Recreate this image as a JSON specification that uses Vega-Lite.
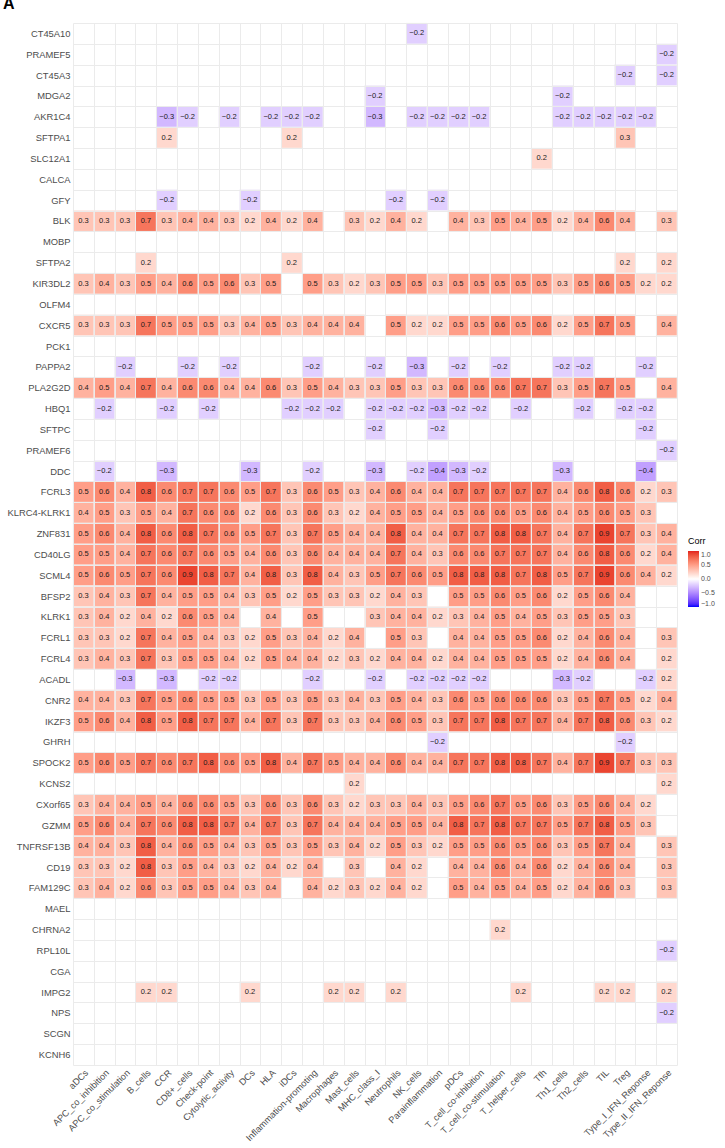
{
"$schema": "https://vega.github.io/schema/vega-lite/v6.json",
"autosize": {"type": "none"},
"padding": {"left": 73, "top": 23, "right": 48, "bottom": 83},
"width": 604,
"height": 1042,
"background": "white",
"title": {"text": "A", "anchor": "start", "frame": "group", "dx": -70, "fontSize": 16, "fontWeight": "bold", "font": "Liberation Sans", "offset": 6, "color": "black"},
"config": {"view": {"stroke": null}, "font": "Liberation Sans"},
"data": {"values": [
{"g":"CT45A10","c":"NK_cells","v":-0.2},
{"g":"PRAMEF5","c":"Type_II_IFN_Reponse","v":-0.2},
{"g":"CT45A3","c":"Treg","v":-0.2},
{"g":"CT45A3","c":"Type_II_IFN_Reponse","v":-0.2},
{"g":"MDGA2","c":"MHC_class_I","v":-0.2},
{"g":"MDGA2","c":"Th1_cells","v":-0.2},
{"g":"AKR1C4","c":"CCR","v":-0.3},
{"g":"AKR1C4","c":"CD8+_cells","v":-0.2},
{"g":"AKR1C4","c":"Cytolytic_activity","v":-0.2},
{"g":"AKR1C4","c":"HLA","v":-0.2},
{"g":"AKR1C4","c":"iDCs","v":-0.2},
{"g":"AKR1C4","c":"Inflammation-promoting","v":-0.2},
{"g":"AKR1C4","c":"MHC_class_I","v":-0.3},
{"g":"AKR1C4","c":"NK_cells","v":-0.2},
{"g":"AKR1C4","c":"Parainflammation","v":-0.2},
{"g":"AKR1C4","c":"pDCs","v":-0.2},
{"g":"AKR1C4","c":"T_cell_co-inhibition","v":-0.2},
{"g":"AKR1C4","c":"Th1_cells","v":-0.2},
{"g":"AKR1C4","c":"Th2_cells","v":-0.2},
{"g":"AKR1C4","c":"TIL","v":-0.2},
{"g":"AKR1C4","c":"Treg","v":-0.2},
{"g":"AKR1C4","c":"Type_I_IFN_Reponse","v":-0.2},
{"g":"SFTPA1","c":"CCR","v":0.2},
{"g":"SFTPA1","c":"iDCs","v":0.2},
{"g":"SFTPA1","c":"Treg","v":0.3},
{"g":"SLC12A1","c":"Tfh","v":0.2},
{"g":"GFY","c":"CCR","v":-0.2},
{"g":"GFY","c":"DCs","v":-0.2},
{"g":"GFY","c":"Neutrophils","v":-0.2},
{"g":"GFY","c":"Parainflammation","v":-0.2},
{"g":"BLK","c":"aDCs","v":0.3},
{"g":"BLK","c":"APC_co_inhibition","v":0.3},
{"g":"BLK","c":"APC_co_stimulation","v":0.3},
{"g":"BLK","c":"B_cells","v":0.7},
{"g":"BLK","c":"CCR","v":0.3},
{"g":"BLK","c":"CD8+_cells","v":0.4},
{"g":"BLK","c":"Check-point","v":0.4},
{"g":"BLK","c":"Cytolytic_activity","v":0.3},
{"g":"BLK","c":"DCs","v":0.2},
{"g":"BLK","c":"HLA","v":0.4},
{"g":"BLK","c":"iDCs","v":0.2},
{"g":"BLK","c":"Inflammation-promoting","v":0.4},
{"g":"BLK","c":"Mast_cells","v":0.3},
{"g":"BLK","c":"MHC_class_I","v":0.2},
{"g":"BLK","c":"Neutrophils","v":0.4},
{"g":"BLK","c":"NK_cells","v":0.2},
{"g":"BLK","c":"pDCs","v":0.4},
{"g":"BLK","c":"T_cell_co-inhibition","v":0.3},
{"g":"BLK","c":"T_cell_co-stimulation","v":0.5},
{"g":"BLK","c":"T_helper_cells","v":0.4},
{"g":"BLK","c":"Tfh","v":0.5},
{"g":"BLK","c":"Th1_cells","v":0.2},
{"g":"BLK","c":"Th2_cells","v":0.4},
{"g":"BLK","c":"TIL","v":0.6},
{"g":"BLK","c":"Treg","v":0.4},
{"g":"BLK","c":"Type_II_IFN_Reponse","v":0.3},
{"g":"SFTPA2","c":"B_cells","v":0.2},
{"g":"SFTPA2","c":"iDCs","v":0.2},
{"g":"SFTPA2","c":"Treg","v":0.2},
{"g":"SFTPA2","c":"Type_II_IFN_Reponse","v":0.2},
{"g":"KIR3DL2","c":"aDCs","v":0.3},
{"g":"KIR3DL2","c":"APC_co_inhibition","v":0.4},
{"g":"KIR3DL2","c":"APC_co_stimulation","v":0.3},
{"g":"KIR3DL2","c":"B_cells","v":0.5},
{"g":"KIR3DL2","c":"CCR","v":0.4},
{"g":"KIR3DL2","c":"CD8+_cells","v":0.6},
{"g":"KIR3DL2","c":"Check-point","v":0.5},
{"g":"KIR3DL2","c":"Cytolytic_activity","v":0.6},
{"g":"KIR3DL2","c":"DCs","v":0.3},
{"g":"KIR3DL2","c":"HLA","v":0.5},
{"g":"KIR3DL2","c":"Inflammation-promoting","v":0.5},
{"g":"KIR3DL2","c":"Macrophages","v":0.3},
{"g":"KIR3DL2","c":"Mast_cells","v":0.2},
{"g":"KIR3DL2","c":"MHC_class_I","v":0.3},
{"g":"KIR3DL2","c":"Neutrophils","v":0.5},
{"g":"KIR3DL2","c":"NK_cells","v":0.5},
{"g":"KIR3DL2","c":"Parainflammation","v":0.3},
{"g":"KIR3DL2","c":"pDCs","v":0.5},
{"g":"KIR3DL2","c":"T_cell_co-inhibition","v":0.5},
{"g":"KIR3DL2","c":"T_cell_co-stimulation","v":0.5},
{"g":"KIR3DL2","c":"T_helper_cells","v":0.5},
{"g":"KIR3DL2","c":"Tfh","v":0.5},
{"g":"KIR3DL2","c":"Th1_cells","v":0.3},
{"g":"KIR3DL2","c":"Th2_cells","v":0.5},
{"g":"KIR3DL2","c":"TIL","v":0.6},
{"g":"KIR3DL2","c":"Treg","v":0.5},
{"g":"KIR3DL2","c":"Type_I_IFN_Reponse","v":0.2},
{"g":"KIR3DL2","c":"Type_II_IFN_Reponse","v":0.2},
{"g":"CXCR5","c":"aDCs","v":0.3},
{"g":"CXCR5","c":"APC_co_inhibition","v":0.3},
{"g":"CXCR5","c":"APC_co_stimulation","v":0.3},
{"g":"CXCR5","c":"B_cells","v":0.7},
{"g":"CXCR5","c":"CCR","v":0.5},
{"g":"CXCR5","c":"CD8+_cells","v":0.5},
{"g":"CXCR5","c":"Check-point","v":0.5},
{"g":"CXCR5","c":"Cytolytic_activity","v":0.3},
{"g":"CXCR5","c":"DCs","v":0.4},
{"g":"CXCR5","c":"HLA","v":0.5},
{"g":"CXCR5","c":"iDCs","v":0.3},
{"g":"CXCR5","c":"Inflammation-promoting","v":0.4},
{"g":"CXCR5","c":"Macrophages","v":0.4},
{"g":"CXCR5","c":"Mast_cells","v":0.4},
{"g":"CXCR5","c":"Neutrophils","v":0.5},
{"g":"CXCR5","c":"NK_cells","v":0.2},
{"g":"CXCR5","c":"Parainflammation","v":0.2},
{"g":"CXCR5","c":"pDCs","v":0.5},
{"g":"CXCR5","c":"T_cell_co-inhibition","v":0.5},
{"g":"CXCR5","c":"T_cell_co-stimulation","v":0.6},
{"g":"CXCR5","c":"T_helper_cells","v":0.5},
{"g":"CXCR5","c":"Tfh","v":0.6},
{"g":"CXCR5","c":"Th1_cells","v":0.2},
{"g":"CXCR5","c":"Th2_cells","v":0.5},
{"g":"CXCR5","c":"TIL","v":0.7},
{"g":"CXCR5","c":"Treg","v":0.5},
{"g":"CXCR5","c":"Type_II_IFN_Reponse","v":0.4},
{"g":"PAPPA2","c":"APC_co_stimulation","v":-0.2},
{"g":"PAPPA2","c":"CD8+_cells","v":-0.2},
{"g":"PAPPA2","c":"Cytolytic_activity","v":-0.2},
{"g":"PAPPA2","c":"Inflammation-promoting","v":-0.2},
{"g":"PAPPA2","c":"MHC_class_I","v":-0.2},
{"g":"PAPPA2","c":"NK_cells","v":-0.3},
{"g":"PAPPA2","c":"pDCs","v":-0.2},
{"g":"PAPPA2","c":"T_cell_co-stimulation","v":-0.2},
{"g":"PAPPA2","c":"Th1_cells","v":-0.2},
{"g":"PAPPA2","c":"Th2_cells","v":-0.2},
{"g":"PAPPA2","c":"Type_I_IFN_Reponse","v":-0.2},
{"g":"PLA2G2D","c":"aDCs","v":0.4},
{"g":"PLA2G2D","c":"APC_co_inhibition","v":0.5},
{"g":"PLA2G2D","c":"APC_co_stimulation","v":0.4},
{"g":"PLA2G2D","c":"B_cells","v":0.7},
{"g":"PLA2G2D","c":"CCR","v":0.4},
{"g":"PLA2G2D","c":"CD8+_cells","v":0.6},
{"g":"PLA2G2D","c":"Check-point","v":0.6},
{"g":"PLA2G2D","c":"Cytolytic_activity","v":0.4},
{"g":"PLA2G2D","c":"DCs","v":0.4},
{"g":"PLA2G2D","c":"HLA","v":0.6},
{"g":"PLA2G2D","c":"iDCs","v":0.3},
{"g":"PLA2G2D","c":"Inflammation-promoting","v":0.5},
{"g":"PLA2G2D","c":"Macrophages","v":0.4},
{"g":"PLA2G2D","c":"Mast_cells","v":0.3},
{"g":"PLA2G2D","c":"MHC_class_I","v":0.3},
{"g":"PLA2G2D","c":"Neutrophils","v":0.5},
{"g":"PLA2G2D","c":"NK_cells","v":0.3},
{"g":"PLA2G2D","c":"Parainflammation","v":0.3},
{"g":"PLA2G2D","c":"pDCs","v":0.6},
{"g":"PLA2G2D","c":"T_cell_co-inhibition","v":0.6},
{"g":"PLA2G2D","c":"T_cell_co-stimulation","v":0.6},
{"g":"PLA2G2D","c":"T_helper_cells","v":0.7},
{"g":"PLA2G2D","c":"Tfh","v":0.7},
{"g":"PLA2G2D","c":"Th1_cells","v":0.3},
{"g":"PLA2G2D","c":"Th2_cells","v":0.5},
{"g":"PLA2G2D","c":"TIL","v":0.7},
{"g":"PLA2G2D","c":"Treg","v":0.5},
{"g":"PLA2G2D","c":"Type_II_IFN_Reponse","v":0.4},
{"g":"HBQ1","c":"APC_co_inhibition","v":-0.2},
{"g":"HBQ1","c":"CCR","v":-0.2},
{"g":"HBQ1","c":"Check-point","v":-0.2},
{"g":"HBQ1","c":"iDCs","v":-0.2},
{"g":"HBQ1","c":"Inflammation-promoting","v":-0.2},
{"g":"HBQ1","c":"Macrophages","v":-0.2},
{"g":"HBQ1","c":"MHC_class_I","v":-0.2},
{"g":"HBQ1","c":"Neutrophils","v":-0.2},
{"g":"HBQ1","c":"NK_cells","v":-0.2},
{"g":"HBQ1","c":"Parainflammation","v":-0.3},
{"g":"HBQ1","c":"pDCs","v":-0.2},
{"g":"HBQ1","c":"T_cell_co-inhibition","v":-0.2},
{"g":"HBQ1","c":"T_helper_cells","v":-0.2},
{"g":"HBQ1","c":"Th2_cells","v":-0.2},
{"g":"HBQ1","c":"Treg","v":-0.2},
{"g":"HBQ1","c":"Type_I_IFN_Reponse","v":-0.2},
{"g":"SFTPC","c":"MHC_class_I","v":-0.2},
{"g":"SFTPC","c":"Parainflammation","v":-0.2},
{"g":"SFTPC","c":"Type_I_IFN_Reponse","v":-0.2},
{"g":"PRAMEF6","c":"Type_II_IFN_Reponse","v":-0.2},
{"g":"DDC","c":"APC_co_inhibition","v":-0.2},
{"g":"DDC","c":"CCR","v":-0.3},
{"g":"DDC","c":"DCs","v":-0.3},
{"g":"DDC","c":"Inflammation-promoting","v":-0.2},
{"g":"DDC","c":"MHC_class_I","v":-0.3},
{"g":"DDC","c":"NK_cells","v":-0.2},
{"g":"DDC","c":"Parainflammation","v":-0.4},
{"g":"DDC","c":"pDCs","v":-0.3},
{"g":"DDC","c":"T_cell_co-inhibition","v":-0.2},
{"g":"DDC","c":"Th1_cells","v":-0.3},
{"g":"DDC","c":"Type_I_IFN_Reponse","v":-0.4},
{"g":"FCRL3","c":"aDCs","v":0.5},
{"g":"FCRL3","c":"APC_co_inhibition","v":0.6},
{"g":"FCRL3","c":"APC_co_stimulation","v":0.4},
{"g":"FCRL3","c":"B_cells","v":0.8},
{"g":"FCRL3","c":"CCR","v":0.6},
{"g":"FCRL3","c":"CD8+_cells","v":0.7},
{"g":"FCRL3","c":"Check-point","v":0.7},
{"g":"FCRL3","c":"Cytolytic_activity","v":0.6},
{"g":"FCRL3","c":"DCs","v":0.5},
{"g":"FCRL3","c":"HLA","v":0.7},
{"g":"FCRL3","c":"iDCs","v":0.3},
{"g":"FCRL3","c":"Inflammation-promoting","v":0.6},
{"g":"FCRL3","c":"Macrophages","v":0.5},
{"g":"FCRL3","c":"Mast_cells","v":0.3},
{"g":"FCRL3","c":"MHC_class_I","v":0.4},
{"g":"FCRL3","c":"Neutrophils","v":0.6},
{"g":"FCRL3","c":"NK_cells","v":0.4},
{"g":"FCRL3","c":"Parainflammation","v":0.4},
{"g":"FCRL3","c":"pDCs","v":0.7},
{"g":"FCRL3","c":"T_cell_co-inhibition","v":0.7},
{"g":"FCRL3","c":"T_cell_co-stimulation","v":0.7},
{"g":"FCRL3","c":"T_helper_cells","v":0.7},
{"g":"FCRL3","c":"Tfh","v":0.7},
{"g":"FCRL3","c":"Th1_cells","v":0.4},
{"g":"FCRL3","c":"Th2_cells","v":0.6},
{"g":"FCRL3","c":"TIL","v":0.8},
{"g":"FCRL3","c":"Treg","v":0.6},
{"g":"FCRL3","c":"Type_I_IFN_Reponse","v":0.2},
{"g":"FCRL3","c":"Type_II_IFN_Reponse","v":0.3},
{"g":"KLRC4-KLRK1","c":"aDCs","v":0.4},
{"g":"KLRC4-KLRK1","c":"APC_co_inhibition","v":0.5},
{"g":"KLRC4-KLRK1","c":"APC_co_stimulation","v":0.3},
{"g":"KLRC4-KLRK1","c":"B_cells","v":0.5},
{"g":"KLRC4-KLRK1","c":"CCR","v":0.4},
{"g":"KLRC4-KLRK1","c":"CD8+_cells","v":0.7},
{"g":"KLRC4-KLRK1","c":"Check-point","v":0.6},
{"g":"KLRC4-KLRK1","c":"Cytolytic_activity","v":0.6},
{"g":"KLRC4-KLRK1","c":"DCs","v":0.2},
{"g":"KLRC4-KLRK1","c":"HLA","v":0.6},
{"g":"KLRC4-KLRK1","c":"iDCs","v":0.3},
{"g":"KLRC4-KLRK1","c":"Inflammation-promoting","v":0.6},
{"g":"KLRC4-KLRK1","c":"Macrophages","v":0.3},
{"g":"KLRC4-KLRK1","c":"Mast_cells","v":0.2},
{"g":"KLRC4-KLRK1","c":"MHC_class_I","v":0.4},
{"g":"KLRC4-KLRK1","c":"Neutrophils","v":0.5},
{"g":"KLRC4-KLRK1","c":"NK_cells","v":0.5},
{"g":"KLRC4-KLRK1","c":"Parainflammation","v":0.4},
{"g":"KLRC4-KLRK1","c":"pDCs","v":0.5},
{"g":"KLRC4-KLRK1","c":"T_cell_co-inhibition","v":0.6},
{"g":"KLRC4-KLRK1","c":"T_cell_co-stimulation","v":0.6},
{"g":"KLRC4-KLRK1","c":"T_helper_cells","v":0.5},
{"g":"KLRC4-KLRK1","c":"Tfh","v":0.6},
{"g":"KLRC4-KLRK1","c":"Th1_cells","v":0.4},
{"g":"KLRC4-KLRK1","c":"Th2_cells","v":0.5},
{"g":"KLRC4-KLRK1","c":"TIL","v":0.6},
{"g":"KLRC4-KLRK1","c":"Treg","v":0.5},
{"g":"KLRC4-KLRK1","c":"Type_I_IFN_Reponse","v":0.3},
{"g":"ZNF831","c":"aDCs","v":0.5},
{"g":"ZNF831","c":"APC_co_inhibition","v":0.6},
{"g":"ZNF831","c":"APC_co_stimulation","v":0.4},
{"g":"ZNF831","c":"B_cells","v":0.8},
{"g":"ZNF831","c":"CCR","v":0.6},
{"g":"ZNF831","c":"CD8+_cells","v":0.8},
{"g":"ZNF831","c":"Check-point","v":0.7},
{"g":"ZNF831","c":"Cytolytic_activity","v":0.6},
{"g":"ZNF831","c":"DCs","v":0.5},
{"g":"ZNF831","c":"HLA","v":0.7},
{"g":"ZNF831","c":"iDCs","v":0.3},
{"g":"ZNF831","c":"Inflammation-promoting","v":0.7},
{"g":"ZNF831","c":"Macrophages","v":0.5},
{"g":"ZNF831","c":"Mast_cells","v":0.4},
{"g":"ZNF831","c":"MHC_class_I","v":0.4},
{"g":"ZNF831","c":"Neutrophils","v":0.8},
{"g":"ZNF831","c":"NK_cells","v":0.4},
{"g":"ZNF831","c":"Parainflammation","v":0.4},
{"g":"ZNF831","c":"pDCs","v":0.7},
{"g":"ZNF831","c":"T_cell_co-inhibition","v":0.7},
{"g":"ZNF831","c":"T_cell_co-stimulation","v":0.8},
{"g":"ZNF831","c":"T_helper_cells","v":0.8},
{"g":"ZNF831","c":"Tfh","v":0.7},
{"g":"ZNF831","c":"Th1_cells","v":0.4},
{"g":"ZNF831","c":"Th2_cells","v":0.7},
{"g":"ZNF831","c":"TIL","v":0.9},
{"g":"ZNF831","c":"Treg","v":0.7},
{"g":"ZNF831","c":"Type_I_IFN_Reponse","v":0.3},
{"g":"ZNF831","c":"Type_II_IFN_Reponse","v":0.4},
{"g":"CD40LG","c":"aDCs","v":0.5},
{"g":"CD40LG","c":"APC_co_inhibition","v":0.5},
{"g":"CD40LG","c":"APC_co_stimulation","v":0.4},
{"g":"CD40LG","c":"B_cells","v":0.7},
{"g":"CD40LG","c":"CCR","v":0.6},
{"g":"CD40LG","c":"CD8+_cells","v":0.7},
{"g":"CD40LG","c":"Check-point","v":0.6},
{"g":"CD40LG","c":"Cytolytic_activity","v":0.5},
{"g":"CD40LG","c":"DCs","v":0.4},
{"g":"CD40LG","c":"HLA","v":0.6},
{"g":"CD40LG","c":"iDCs","v":0.3},
{"g":"CD40LG","c":"Inflammation-promoting","v":0.6},
{"g":"CD40LG","c":"Macrophages","v":0.4},
{"g":"CD40LG","c":"Mast_cells","v":0.4},
{"g":"CD40LG","c":"MHC_class_I","v":0.4},
{"g":"CD40LG","c":"Neutrophils","v":0.7},
{"g":"CD40LG","c":"NK_cells","v":0.4},
{"g":"CD40LG","c":"Parainflammation","v":0.3},
{"g":"CD40LG","c":"pDCs","v":0.6},
{"g":"CD40LG","c":"T_cell_co-inhibition","v":0.6},
{"g":"CD40LG","c":"T_cell_co-stimulation","v":0.7},
{"g":"CD40LG","c":"T_helper_cells","v":0.7},
{"g":"CD40LG","c":"Tfh","v":0.7},
{"g":"CD40LG","c":"Th1_cells","v":0.4},
{"g":"CD40LG","c":"Th2_cells","v":0.6},
{"g":"CD40LG","c":"TIL","v":0.8},
{"g":"CD40LG","c":"Treg","v":0.6},
{"g":"CD40LG","c":"Type_I_IFN_Reponse","v":0.2},
{"g":"CD40LG","c":"Type_II_IFN_Reponse","v":0.4},
{"g":"SCML4","c":"aDCs","v":0.5},
{"g":"SCML4","c":"APC_co_inhibition","v":0.6},
{"g":"SCML4","c":"APC_co_stimulation","v":0.5},
{"g":"SCML4","c":"B_cells","v":0.7},
{"g":"SCML4","c":"CCR","v":0.6},
{"g":"SCML4","c":"CD8+_cells","v":0.9},
{"g":"SCML4","c":"Check-point","v":0.8},
{"g":"SCML4","c":"Cytolytic_activity","v":0.7},
{"g":"SCML4","c":"DCs","v":0.4},
{"g":"SCML4","c":"HLA","v":0.8},
{"g":"SCML4","c":"iDCs","v":0.3},
{"g":"SCML4","c":"Inflammation-promoting","v":0.8},
{"g":"SCML4","c":"Macrophages","v":0.4},
{"g":"SCML4","c":"Mast_cells","v":0.3},
{"g":"SCML4","c":"MHC_class_I","v":0.5},
{"g":"SCML4","c":"Neutrophils","v":0.7},
{"g":"SCML4","c":"NK_cells","v":0.6},
{"g":"SCML4","c":"Parainflammation","v":0.5},
{"g":"SCML4","c":"pDCs","v":0.8},
{"g":"SCML4","c":"T_cell_co-inhibition","v":0.8},
{"g":"SCML4","c":"T_cell_co-stimulation","v":0.8},
{"g":"SCML4","c":"T_helper_cells","v":0.7},
{"g":"SCML4","c":"Tfh","v":0.8},
{"g":"SCML4","c":"Th1_cells","v":0.5},
{"g":"SCML4","c":"Th2_cells","v":0.7},
{"g":"SCML4","c":"TIL","v":0.9},
{"g":"SCML4","c":"Treg","v":0.6},
{"g":"SCML4","c":"Type_I_IFN_Reponse","v":0.4},
{"g":"SCML4","c":"Type_II_IFN_Reponse","v":0.2},
{"g":"BFSP2","c":"aDCs","v":0.3},
{"g":"BFSP2","c":"APC_co_inhibition","v":0.4},
{"g":"BFSP2","c":"APC_co_stimulation","v":0.3},
{"g":"BFSP2","c":"B_cells","v":0.7},
{"g":"BFSP2","c":"CCR","v":0.4},
{"g":"BFSP2","c":"CD8+_cells","v":0.5},
{"g":"BFSP2","c":"Check-point","v":0.5},
{"g":"BFSP2","c":"Cytolytic_activity","v":0.4},
{"g":"BFSP2","c":"DCs","v":0.3},
{"g":"BFSP2","c":"HLA","v":0.5},
{"g":"BFSP2","c":"iDCs","v":0.2},
{"g":"BFSP2","c":"Inflammation-promoting","v":0.5},
{"g":"BFSP2","c":"Macrophages","v":0.3},
{"g":"BFSP2","c":"Mast_cells","v":0.3},
{"g":"BFSP2","c":"MHC_class_I","v":0.2},
{"g":"BFSP2","c":"Neutrophils","v":0.4},
{"g":"BFSP2","c":"NK_cells","v":0.3},
{"g":"BFSP2","c":"pDCs","v":0.5},
{"g":"BFSP2","c":"T_cell_co-inhibition","v":0.5},
{"g":"BFSP2","c":"T_cell_co-stimulation","v":0.6},
{"g":"BFSP2","c":"T_helper_cells","v":0.5},
{"g":"BFSP2","c":"Tfh","v":0.6},
{"g":"BFSP2","c":"Th1_cells","v":0.2},
{"g":"BFSP2","c":"Th2_cells","v":0.5},
{"g":"BFSP2","c":"TIL","v":0.6},
{"g":"BFSP2","c":"Treg","v":0.4},
{"g":"KLRK1","c":"aDCs","v":0.3},
{"g":"KLRK1","c":"APC_co_inhibition","v":0.4},
{"g":"KLRK1","c":"APC_co_stimulation","v":0.2},
{"g":"KLRK1","c":"B_cells","v":0.4},
{"g":"KLRK1","c":"CCR","v":0.2},
{"g":"KLRK1","c":"CD8+_cells","v":0.6},
{"g":"KLRK1","c":"Check-point","v":0.5},
{"g":"KLRK1","c":"Cytolytic_activity","v":0.4},
{"g":"KLRK1","c":"HLA","v":0.4},
{"g":"KLRK1","c":"Inflammation-promoting","v":0.5},
{"g":"KLRK1","c":"MHC_class_I","v":0.3},
{"g":"KLRK1","c":"Neutrophils","v":0.4},
{"g":"KLRK1","c":"NK_cells","v":0.4},
{"g":"KLRK1","c":"Parainflammation","v":0.2},
{"g":"KLRK1","c":"pDCs","v":0.3},
{"g":"KLRK1","c":"T_cell_co-inhibition","v":0.4},
{"g":"KLRK1","c":"T_cell_co-stimulation","v":0.5},
{"g":"KLRK1","c":"T_helper_cells","v":0.4},
{"g":"KLRK1","c":"Tfh","v":0.5},
{"g":"KLRK1","c":"Th1_cells","v":0.3},
{"g":"KLRK1","c":"Th2_cells","v":0.5},
{"g":"KLRK1","c":"TIL","v":0.5},
{"g":"KLRK1","c":"Treg","v":0.3},
{"g":"FCRL1","c":"aDCs","v":0.3},
{"g":"FCRL1","c":"APC_co_inhibition","v":0.3},
{"g":"FCRL1","c":"APC_co_stimulation","v":0.2},
{"g":"FCRL1","c":"B_cells","v":0.7},
{"g":"FCRL1","c":"CCR","v":0.4},
{"g":"FCRL1","c":"CD8+_cells","v":0.5},
{"g":"FCRL1","c":"Check-point","v":0.4},
{"g":"FCRL1","c":"Cytolytic_activity","v":0.3},
{"g":"FCRL1","c":"DCs","v":0.2},
{"g":"FCRL1","c":"HLA","v":0.5},
{"g":"FCRL1","c":"iDCs","v":0.3},
{"g":"FCRL1","c":"Inflammation-promoting","v":0.4},
{"g":"FCRL1","c":"Macrophages","v":0.2},
{"g":"FCRL1","c":"Mast_cells","v":0.4},
{"g":"FCRL1","c":"Neutrophils","v":0.5},
{"g":"FCRL1","c":"NK_cells","v":0.3},
{"g":"FCRL1","c":"pDCs","v":0.4},
{"g":"FCRL1","c":"T_cell_co-inhibition","v":0.4},
{"g":"FCRL1","c":"T_cell_co-stimulation","v":0.5},
{"g":"FCRL1","c":"T_helper_cells","v":0.5},
{"g":"FCRL1","c":"Tfh","v":0.6},
{"g":"FCRL1","c":"Th1_cells","v":0.2},
{"g":"FCRL1","c":"Th2_cells","v":0.4},
{"g":"FCRL1","c":"TIL","v":0.6},
{"g":"FCRL1","c":"Treg","v":0.4},
{"g":"FCRL1","c":"Type_II_IFN_Reponse","v":0.3},
{"g":"FCRL4","c":"aDCs","v":0.3},
{"g":"FCRL4","c":"APC_co_inhibition","v":0.4},
{"g":"FCRL4","c":"APC_co_stimulation","v":0.3},
{"g":"FCRL4","c":"B_cells","v":0.7},
{"g":"FCRL4","c":"CCR","v":0.3},
{"g":"FCRL4","c":"CD8+_cells","v":0.5},
{"g":"FCRL4","c":"Check-point","v":0.5},
{"g":"FCRL4","c":"Cytolytic_activity","v":0.4},
{"g":"FCRL4","c":"DCs","v":0.2},
{"g":"FCRL4","c":"HLA","v":0.5},
{"g":"FCRL4","c":"iDCs","v":0.4},
{"g":"FCRL4","c":"Inflammation-promoting","v":0.4},
{"g":"FCRL4","c":"Macrophages","v":0.2},
{"g":"FCRL4","c":"Mast_cells","v":0.3},
{"g":"FCRL4","c":"MHC_class_I","v":0.2},
{"g":"FCRL4","c":"Neutrophils","v":0.4},
{"g":"FCRL4","c":"NK_cells","v":0.4},
{"g":"FCRL4","c":"Parainflammation","v":0.2},
{"g":"FCRL4","c":"pDCs","v":0.4},
{"g":"FCRL4","c":"T_cell_co-inhibition","v":0.4},
{"g":"FCRL4","c":"T_cell_co-stimulation","v":0.5},
{"g":"FCRL4","c":"T_helper_cells","v":0.5},
{"g":"FCRL4","c":"Tfh","v":0.5},
{"g":"FCRL4","c":"Th1_cells","v":0.2},
{"g":"FCRL4","c":"Th2_cells","v":0.4},
{"g":"FCRL4","c":"TIL","v":0.6},
{"g":"FCRL4","c":"Treg","v":0.4},
{"g":"FCRL4","c":"Type_II_IFN_Reponse","v":0.2},
{"g":"ACADL","c":"APC_co_stimulation","v":-0.3},
{"g":"ACADL","c":"CCR","v":-0.3},
{"g":"ACADL","c":"Check-point","v":-0.2},
{"g":"ACADL","c":"Cytolytic_activity","v":-0.2},
{"g":"ACADL","c":"Inflammation-promoting","v":-0.2},
{"g":"ACADL","c":"MHC_class_I","v":-0.2},
{"g":"ACADL","c":"NK_cells","v":-0.2},
{"g":"ACADL","c":"Parainflammation","v":-0.2},
{"g":"ACADL","c":"pDCs","v":-0.2},
{"g":"ACADL","c":"T_cell_co-inhibition","v":-0.2},
{"g":"ACADL","c":"Th1_cells","v":-0.3},
{"g":"ACADL","c":"Th2_cells","v":-0.2},
{"g":"ACADL","c":"Type_I_IFN_Reponse","v":-0.2},
{"g":"ACADL","c":"Type_II_IFN_Reponse","v":0.2},
{"g":"CNR2","c":"aDCs","v":0.4},
{"g":"CNR2","c":"APC_co_inhibition","v":0.4},
{"g":"CNR2","c":"APC_co_stimulation","v":0.3},
{"g":"CNR2","c":"B_cells","v":0.7},
{"g":"CNR2","c":"CCR","v":0.5},
{"g":"CNR2","c":"CD8+_cells","v":0.6},
{"g":"CNR2","c":"Check-point","v":0.5},
{"g":"CNR2","c":"Cytolytic_activity","v":0.5},
{"g":"CNR2","c":"DCs","v":0.3},
{"g":"CNR2","c":"HLA","v":0.5},
{"g":"CNR2","c":"iDCs","v":0.3},
{"g":"CNR2","c":"Inflammation-promoting","v":0.5},
{"g":"CNR2","c":"Macrophages","v":0.3},
{"g":"CNR2","c":"Mast_cells","v":0.4},
{"g":"CNR2","c":"MHC_class_I","v":0.3},
{"g":"CNR2","c":"Neutrophils","v":0.5},
{"g":"CNR2","c":"NK_cells","v":0.4},
{"g":"CNR2","c":"Parainflammation","v":0.3},
{"g":"CNR2","c":"pDCs","v":0.6},
{"g":"CNR2","c":"T_cell_co-inhibition","v":0.5},
{"g":"CNR2","c":"T_cell_co-stimulation","v":0.6},
{"g":"CNR2","c":"T_helper_cells","v":0.6},
{"g":"CNR2","c":"Tfh","v":0.6},
{"g":"CNR2","c":"Th1_cells","v":0.3},
{"g":"CNR2","c":"Th2_cells","v":0.5},
{"g":"CNR2","c":"TIL","v":0.7},
{"g":"CNR2","c":"Treg","v":0.5},
{"g":"CNR2","c":"Type_I_IFN_Reponse","v":0.2},
{"g":"CNR2","c":"Type_II_IFN_Reponse","v":0.4},
{"g":"IKZF3","c":"aDCs","v":0.5},
{"g":"IKZF3","c":"APC_co_inhibition","v":0.6},
{"g":"IKZF3","c":"APC_co_stimulation","v":0.4},
{"g":"IKZF3","c":"B_cells","v":0.8},
{"g":"IKZF3","c":"CCR","v":0.5},
{"g":"IKZF3","c":"CD8+_cells","v":0.8},
{"g":"IKZF3","c":"Check-point","v":0.7},
{"g":"IKZF3","c":"Cytolytic_activity","v":0.7},
{"g":"IKZF3","c":"DCs","v":0.4},
{"g":"IKZF3","c":"HLA","v":0.7},
{"g":"IKZF3","c":"iDCs","v":0.3},
{"g":"IKZF3","c":"Inflammation-promoting","v":0.7},
{"g":"IKZF3","c":"Macrophages","v":0.3},
{"g":"IKZF3","c":"Mast_cells","v":0.3},
{"g":"IKZF3","c":"MHC_class_I","v":0.4},
{"g":"IKZF3","c":"Neutrophils","v":0.6},
{"g":"IKZF3","c":"NK_cells","v":0.5},
{"g":"IKZF3","c":"Parainflammation","v":0.3},
{"g":"IKZF3","c":"pDCs","v":0.7},
{"g":"IKZF3","c":"T_cell_co-inhibition","v":0.7},
{"g":"IKZF3","c":"T_cell_co-stimulation","v":0.8},
{"g":"IKZF3","c":"T_helper_cells","v":0.7},
{"g":"IKZF3","c":"Tfh","v":0.7},
{"g":"IKZF3","c":"Th1_cells","v":0.4},
{"g":"IKZF3","c":"Th2_cells","v":0.7},
{"g":"IKZF3","c":"TIL","v":0.8},
{"g":"IKZF3","c":"Treg","v":0.6},
{"g":"IKZF3","c":"Type_I_IFN_Reponse","v":0.3},
{"g":"IKZF3","c":"Type_II_IFN_Reponse","v":0.2},
{"g":"GHRH","c":"Parainflammation","v":-0.2},
{"g":"GHRH","c":"Treg","v":-0.2},
{"g":"SPOCK2","c":"aDCs","v":0.5},
{"g":"SPOCK2","c":"APC_co_inhibition","v":0.6},
{"g":"SPOCK2","c":"APC_co_stimulation","v":0.5},
{"g":"SPOCK2","c":"B_cells","v":0.7},
{"g":"SPOCK2","c":"CCR","v":0.6},
{"g":"SPOCK2","c":"CD8+_cells","v":0.7},
{"g":"SPOCK2","c":"Check-point","v":0.8},
{"g":"SPOCK2","c":"Cytolytic_activity","v":0.6},
{"g":"SPOCK2","c":"DCs","v":0.5},
{"g":"SPOCK2","c":"HLA","v":0.8},
{"g":"SPOCK2","c":"iDCs","v":0.4},
{"g":"SPOCK2","c":"Inflammation-promoting","v":0.7},
{"g":"SPOCK2","c":"Macrophages","v":0.5},
{"g":"SPOCK2","c":"Mast_cells","v":0.4},
{"g":"SPOCK2","c":"MHC_class_I","v":0.4},
{"g":"SPOCK2","c":"Neutrophils","v":0.6},
{"g":"SPOCK2","c":"NK_cells","v":0.4},
{"g":"SPOCK2","c":"Parainflammation","v":0.4},
{"g":"SPOCK2","c":"pDCs","v":0.7},
{"g":"SPOCK2","c":"T_cell_co-inhibition","v":0.7},
{"g":"SPOCK2","c":"T_cell_co-stimulation","v":0.8},
{"g":"SPOCK2","c":"T_helper_cells","v":0.8},
{"g":"SPOCK2","c":"Tfh","v":0.7},
{"g":"SPOCK2","c":"Th1_cells","v":0.4},
{"g":"SPOCK2","c":"Th2_cells","v":0.7},
{"g":"SPOCK2","c":"TIL","v":0.9},
{"g":"SPOCK2","c":"Treg","v":0.7},
{"g":"SPOCK2","c":"Type_I_IFN_Reponse","v":0.3},
{"g":"SPOCK2","c":"Type_II_IFN_Reponse","v":0.3},
{"g":"KCNS2","c":"Mast_cells","v":0.2},
{"g":"KCNS2","c":"Type_II_IFN_Reponse","v":0.2},
{"g":"CXorf65","c":"aDCs","v":0.3},
{"g":"CXorf65","c":"APC_co_inhibition","v":0.4},
{"g":"CXorf65","c":"APC_co_stimulation","v":0.4},
{"g":"CXorf65","c":"B_cells","v":0.5},
{"g":"CXorf65","c":"CCR","v":0.4},
{"g":"CXorf65","c":"CD8+_cells","v":0.6},
{"g":"CXorf65","c":"Check-point","v":0.6},
{"g":"CXorf65","c":"Cytolytic_activity","v":0.5},
{"g":"CXorf65","c":"DCs","v":0.3},
{"g":"CXorf65","c":"HLA","v":0.6},
{"g":"CXorf65","c":"iDCs","v":0.3},
{"g":"CXorf65","c":"Inflammation-promoting","v":0.6},
{"g":"CXorf65","c":"Macrophages","v":0.3},
{"g":"CXorf65","c":"Mast_cells","v":0.2},
{"g":"CXorf65","c":"MHC_class_I","v":0.3},
{"g":"CXorf65","c":"Neutrophils","v":0.3},
{"g":"CXorf65","c":"NK_cells","v":0.4},
{"g":"CXorf65","c":"Parainflammation","v":0.3},
{"g":"CXorf65","c":"pDCs","v":0.5},
{"g":"CXorf65","c":"T_cell_co-inhibition","v":0.6},
{"g":"CXorf65","c":"T_cell_co-stimulation","v":0.7},
{"g":"CXorf65","c":"T_helper_cells","v":0.5},
{"g":"CXorf65","c":"Tfh","v":0.6},
{"g":"CXorf65","c":"Th1_cells","v":0.3},
{"g":"CXorf65","c":"Th2_cells","v":0.5},
{"g":"CXorf65","c":"TIL","v":0.6},
{"g":"CXorf65","c":"Treg","v":0.4},
{"g":"CXorf65","c":"Type_I_IFN_Reponse","v":0.2},
{"g":"GZMM","c":"aDCs","v":0.5},
{"g":"GZMM","c":"APC_co_inhibition","v":0.6},
{"g":"GZMM","c":"APC_co_stimulation","v":0.4},
{"g":"GZMM","c":"B_cells","v":0.7},
{"g":"GZMM","c":"CCR","v":0.6},
{"g":"GZMM","c":"CD8+_cells","v":0.8},
{"g":"GZMM","c":"Check-point","v":0.8},
{"g":"GZMM","c":"Cytolytic_activity","v":0.7},
{"g":"GZMM","c":"DCs","v":0.4},
{"g":"GZMM","c":"HLA","v":0.7},
{"g":"GZMM","c":"iDCs","v":0.3},
{"g":"GZMM","c":"Inflammation-promoting","v":0.7},
{"g":"GZMM","c":"Macrophages","v":0.4},
{"g":"GZMM","c":"Mast_cells","v":0.4},
{"g":"GZMM","c":"MHC_class_I","v":0.4},
{"g":"GZMM","c":"Neutrophils","v":0.5},
{"g":"GZMM","c":"NK_cells","v":0.5},
{"g":"GZMM","c":"Parainflammation","v":0.4},
{"g":"GZMM","c":"pDCs","v":0.8},
{"g":"GZMM","c":"T_cell_co-inhibition","v":0.7},
{"g":"GZMM","c":"T_cell_co-stimulation","v":0.8},
{"g":"GZMM","c":"T_helper_cells","v":0.7},
{"g":"GZMM","c":"Tfh","v":0.7},
{"g":"GZMM","c":"Th1_cells","v":0.5},
{"g":"GZMM","c":"Th2_cells","v":0.7},
{"g":"GZMM","c":"TIL","v":0.8},
{"g":"GZMM","c":"Treg","v":0.5},
{"g":"GZMM","c":"Type_I_IFN_Reponse","v":0.3},
{"g":"TNFRSF13B","c":"aDCs","v":0.4},
{"g":"TNFRSF13B","c":"APC_co_inhibition","v":0.4},
{"g":"TNFRSF13B","c":"APC_co_stimulation","v":0.3},
{"g":"TNFRSF13B","c":"B_cells","v":0.8},
{"g":"TNFRSF13B","c":"CCR","v":0.4},
{"g":"TNFRSF13B","c":"CD8+_cells","v":0.6},
{"g":"TNFRSF13B","c":"Check-point","v":0.5},
{"g":"TNFRSF13B","c":"Cytolytic_activity","v":0.4},
{"g":"TNFRSF13B","c":"DCs","v":0.3},
{"g":"TNFRSF13B","c":"HLA","v":0.5},
{"g":"TNFRSF13B","c":"iDCs","v":0.3},
{"g":"TNFRSF13B","c":"Inflammation-promoting","v":0.5},
{"g":"TNFRSF13B","c":"Macrophages","v":0.3},
{"g":"TNFRSF13B","c":"Mast_cells","v":0.4},
{"g":"TNFRSF13B","c":"MHC_class_I","v":0.2},
{"g":"TNFRSF13B","c":"Neutrophils","v":0.5},
{"g":"TNFRSF13B","c":"NK_cells","v":0.3},
{"g":"TNFRSF13B","c":"Parainflammation","v":0.2},
{"g":"TNFRSF13B","c":"pDCs","v":0.5},
{"g":"TNFRSF13B","c":"T_cell_co-inhibition","v":0.5},
{"g":"TNFRSF13B","c":"T_cell_co-stimulation","v":0.6},
{"g":"TNFRSF13B","c":"T_helper_cells","v":0.5},
{"g":"TNFRSF13B","c":"Tfh","v":0.6},
{"g":"TNFRSF13B","c":"Th1_cells","v":0.3},
{"g":"TNFRSF13B","c":"Th2_cells","v":0.5},
{"g":"TNFRSF13B","c":"TIL","v":0.7},
{"g":"TNFRSF13B","c":"Treg","v":0.4},
{"g":"TNFRSF13B","c":"Type_II_IFN_Reponse","v":0.3},
{"g":"CD19","c":"aDCs","v":0.3},
{"g":"CD19","c":"APC_co_inhibition","v":0.3},
{"g":"CD19","c":"APC_co_stimulation","v":0.2},
{"g":"CD19","c":"B_cells","v":0.8},
{"g":"CD19","c":"CCR","v":0.3},
{"g":"CD19","c":"CD8+_cells","v":0.5},
{"g":"CD19","c":"Check-point","v":0.4},
{"g":"CD19","c":"Cytolytic_activity","v":0.3},
{"g":"CD19","c":"DCs","v":0.2},
{"g":"CD19","c":"HLA","v":0.4},
{"g":"CD19","c":"iDCs","v":0.2},
{"g":"CD19","c":"Inflammation-promoting","v":0.4},
{"g":"CD19","c":"Mast_cells","v":0.3},
{"g":"CD19","c":"Neutrophils","v":0.4},
{"g":"CD19","c":"NK_cells","v":0.2},
{"g":"CD19","c":"pDCs","v":0.4},
{"g":"CD19","c":"T_cell_co-inhibition","v":0.4},
{"g":"CD19","c":"T_cell_co-stimulation","v":0.6},
{"g":"CD19","c":"T_helper_cells","v":0.4},
{"g":"CD19","c":"Tfh","v":0.6},
{"g":"CD19","c":"Th1_cells","v":0.2},
{"g":"CD19","c":"Th2_cells","v":0.4},
{"g":"CD19","c":"TIL","v":0.6},
{"g":"CD19","c":"Treg","v":0.4},
{"g":"CD19","c":"Type_II_IFN_Reponse","v":0.3},
{"g":"FAM129C","c":"aDCs","v":0.3},
{"g":"FAM129C","c":"APC_co_inhibition","v":0.4},
{"g":"FAM129C","c":"APC_co_stimulation","v":0.2},
{"g":"FAM129C","c":"B_cells","v":0.6},
{"g":"FAM129C","c":"CCR","v":0.3},
{"g":"FAM129C","c":"CD8+_cells","v":0.5},
{"g":"FAM129C","c":"Check-point","v":0.5},
{"g":"FAM129C","c":"Cytolytic_activity","v":0.4},
{"g":"FAM129C","c":"DCs","v":0.3},
{"g":"FAM129C","c":"HLA","v":0.4},
{"g":"FAM129C","c":"Inflammation-promoting","v":0.4},
{"g":"FAM129C","c":"Macrophages","v":0.2},
{"g":"FAM129C","c":"Mast_cells","v":0.3},
{"g":"FAM129C","c":"MHC_class_I","v":0.2},
{"g":"FAM129C","c":"Neutrophils","v":0.4},
{"g":"FAM129C","c":"NK_cells","v":0.2},
{"g":"FAM129C","c":"pDCs","v":0.5},
{"g":"FAM129C","c":"T_cell_co-inhibition","v":0.4},
{"g":"FAM129C","c":"T_cell_co-stimulation","v":0.5},
{"g":"FAM129C","c":"T_helper_cells","v":0.4},
{"g":"FAM129C","c":"Tfh","v":0.5},
{"g":"FAM129C","c":"Th1_cells","v":0.2},
{"g":"FAM129C","c":"Th2_cells","v":0.4},
{"g":"FAM129C","c":"TIL","v":0.6},
{"g":"FAM129C","c":"Treg","v":0.3},
{"g":"FAM129C","c":"Type_II_IFN_Reponse","v":0.3},
{"g":"CHRNA2","c":"T_cell_co-stimulation","v":0.2},
{"g":"RPL10L","c":"Type_II_IFN_Reponse","v":-0.2},
{"g":"IMPG2","c":"B_cells","v":0.2},
{"g":"IMPG2","c":"CCR","v":0.2},
{"g":"IMPG2","c":"DCs","v":0.2},
{"g":"IMPG2","c":"Macrophages","v":0.2},
{"g":"IMPG2","c":"Mast_cells","v":0.2},
{"g":"IMPG2","c":"Neutrophils","v":0.2},
{"g":"IMPG2","c":"T_helper_cells","v":0.2},
{"g":"IMPG2","c":"TIL","v":0.2},
{"g":"IMPG2","c":"Treg","v":0.2},
{"g":"IMPG2","c":"Type_II_IFN_Reponse","v":0.2},
{"g":"NPS","c":"Type_II_IFN_Reponse","v":-0.2}
]},
"encoding": {
  "x": {"field": "c", "type": "nominal",
    "scale": {"domain": ["aDCs","APC_co_inhibition","APC_co_stimulation","B_cells","CCR","CD8+_cells","Check-point","Cytolytic_activity","DCs","HLA","iDCs","Inflammation-promoting","Macrophages","Mast_cells","MHC_class_I","Neutrophils","NK_cells","Parainflammation","pDCs","T_cell_co-inhibition","T_cell_co-stimulation","T_helper_cells","Tfh","Th1_cells","Th2_cells","TIL","Treg","Type_I_IFN_Reponse","Type_II_IFN_Reponse"], "paddingInner": 0, "paddingOuter": 0},
    "axis": {"title": null, "labelAngle": -45, "labelAlign": "right", "labelBaseline": "top", "grid": true, "tickBand": "extent", "gridColor": "#ebebeb", "gridWidth": 1, "ticks": false, "domain": false, "labelFontSize": 9.2, "labelColor": "#4d4d4d", "labelPadding": 3, "labelFont": "Liberation Sans"}},
  "y": {"field": "g", "type": "nominal",
    "scale": {"domain": ["CT45A10","PRAMEF5","CT45A3","MDGA2","AKR1C4","SFTPA1","SLC12A1","CALCA","GFY","BLK","MOBP","SFTPA2","KIR3DL2","OLFM4","CXCR5","PCK1","PAPPA2","PLA2G2D","HBQ1","SFTPC","PRAMEF6","DDC","FCRL3","KLRC4-KLRK1","ZNF831","CD40LG","SCML4","BFSP2","KLRK1","FCRL1","FCRL4","ACADL","CNR2","IKZF3","GHRH","SPOCK2","KCNS2","CXorf65","GZMM","TNFRSF13B","CD19","FAM129C","MAEL","CHRNA2","RPL10L","CGA","IMPG2","NPS","SCGN","KCNH6"], "paddingInner": 0, "paddingOuter": 0},
    "axis": {"title": null, "grid": true, "tickBand": "extent", "gridColor": "#ebebeb", "gridWidth": 1, "ticks": false, "domain": false, "labelFontSize": 9.4, "labelColor": "#4d4d4d", "labelPadding": 3, "labelFont": "Liberation Sans"}}
},
"layer": [
  {"mark": {"type": "rect", "stroke": "#f4f4f4", "strokeWidth": 0.5},
   "encoding": {"fill": {"field": "v", "type": "quantitative",
     "scale": {"domain": [-1, 0, 1], "range": ["#0000ff", "#ffffff", "#e3211c"], "interpolate": "lab"},
     "legend": {"title": "Corr", "orient": "none", "legendX": 615, "legendY": 514, "direction": "vertical", "gradientLength": 56, "gradientThickness": 11, "values": [-1, -0.5, 0, 0.5, 1], "format": ".1f", "titleFontSize": 9, "titleFont": "Liberation Sans", "titleFontWeight": "normal", "labelFontSize": 7, "labelFont": "Liberation Sans", "labelColor": "#4d4d4d", "titlePadding": 5}}}},
  {"mark": {"type": "text", "fontSize": 7.5, "font": "Liberation Sans", "color": "#1a1a1a"},
   "encoding": {"text": {"field": "v", "type": "quantitative", "format": ".1f"}}}
]
}
